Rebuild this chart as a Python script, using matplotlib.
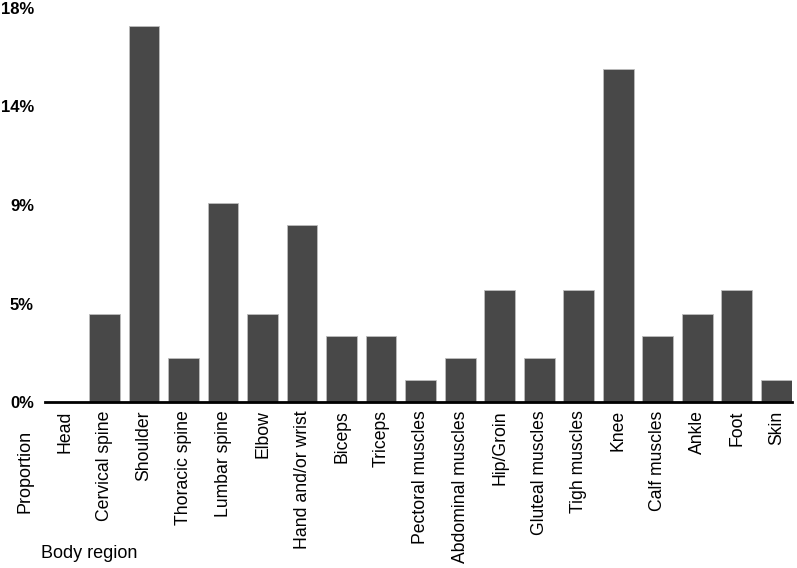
import matplotlib.pyplot as plt
from matplotlib.ticker import FixedLocator

plt.rcParams['font.family'] = ['Liberation Sans', 'DejaVu Sans']

regions = ["Head", "Cervical spine", "Shoulder", "Thoracic spine", "Lumbar spine",
           "Elbow", "Hand and/or wrist", "Biceps", "Triceps", "Pectoral muscles",
           "Abdominal muscles", "Hip/Groin", "Gluteal muscles", "Tigh muscles",
           "Knee", "Calf muscles", "Ankle", "Foot", "Skin"]
proportion = [0, 4.0, 17.2, 2.0, 9.1, 4.0, 8.1, 3.0, 3.0, 1.0,
              2.0, 5.1, 2.0, 5.1, 15.2, 3.0, 4.0, 5.1, 1.0]
ytick_vals = [0, 4.5, 9, 13.5, 18]
ytick_labels = ["0%", "5%", "9%", "14%", "18%"]

W, H = 797, 568
fig = plt.figure(figsize=(W / 100, H / 100), dpi=100)
ax = fig.add_axes([45 / W, 1 - 402 / H, (792 - 45) / W, (402 - 8) / H])

x = range(len(regions))
ax.bar(x, proportion, width=0.78, color="#484848", edgecolor="#bdbdbd", linewidth=0.6)

ax.set_xlim(-0.506, 18.4)
ax.set_ylim(0, 18)
for s in ["top", "right", "left"]:
    ax.spines[s].set_visible(False)
ax.spines["bottom"].set_linewidth(2)
ax.spines["bottom"].set_color("black")

ax.yaxis.set_major_locator(FixedLocator(ytick_vals))
ax.set_yticklabels(ytick_labels, fontsize=12, fontweight="bold")
ax.set_xticks(list(x))
ax.set_xticklabels(regions, rotation=90, fontsize=12.7, va="top", ha="center")
ax.tick_params(axis="both", length=0)
ax.tick_params(axis="x", pad=6)
ax.tick_params(axis="y", pad=8)

fig.text(25 / W, 1 - 430 / H, "Proportion", rotation=90, fontsize=13,
         ha="center", va="top")
fig.text(41 / W, 1 - 553 / H, "Body region", fontsize=13, ha="left", va="center")

fig.savefig("out.png", dpi=100)
